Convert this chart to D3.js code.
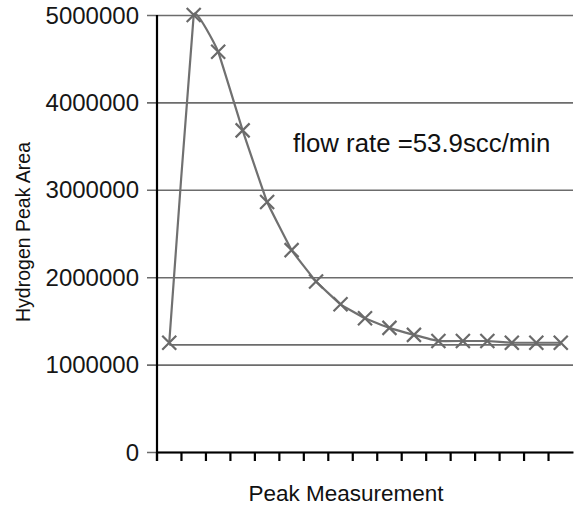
<!DOCTYPE html>
<html>
<head>
<meta charset="utf-8">
<script src="https://cdn.jsdelivr.net/npm/d3@7"></script>
<style>
  body { margin: 0; background: #fff; }
  svg { display: block; font-family: "Liberation Sans", Arial, sans-serif; }
</style>
</head>
<body>
<svg id="chart" width="578" height="506"></svg>
<script>
// peak measurements (17 of them, unlabeled on the axis)
const measurements = d3.range(1, 18);
const peakArea = [1250000, 5000000, 4580000, 3680000, 2860000, 2310000, 1950000, 1690000,
  1530000, 1420000, 1340000, 1270000, 1270000, 1270000, 1250000, 1250000, 1250000];
const yTicks = [0, 1000000, 2000000, 3000000, 4000000, 5000000];
const baseline = 1225000;
const note = 'flow rate =53.9scc/min';

const svg = d3.select('#chart');
const width = 578, height = 506;
const margin = { top: 15, right: 5, bottom: 54, left: 157 };

const x = d3.scaleBand()
  .domain(measurements)
  .range([margin.left, width - margin.right]);
const y = d3.scaleLinear()
  .domain([0, 5000000])
  .range([height - margin.bottom, margin.top]);

const cx = (d) => x(d) + x.bandwidth() / 2;

// gridlines with short ticks on the left of the axis
svg.append('g')
  .attr('transform', `translate(${margin.left - 10},0)`)
  .call(d3.axisLeft(y).tickValues(yTicks).tickFormat(''))
  .call((g) => g.select('.domain').remove())
  .call((g) => g.selectAll('line')
    .attr('x1', 0)
    .attr('x2', width - margin.right - margin.left + 10)
    .attr('stroke', '#6c6c6c').attr('stroke-width', 1.6));

// tick labels
svg.append('g')
  .selectAll('text')
  .data(yTicks)
  .join('text')
  .attr('x', 139)
  .attr('y', (d) => y(d))
  .attr('dy', '0.36em')
  .attr('text-anchor', 'end')
  .attr('font-size', 24)
  .attr('fill', '#161616')
  .text((d) => d);

// x axis with tick marks at band boundaries
const xAxis = d3.axisBottom(x).tickSize(9).tickFormat('').tickSizeOuter(0);
const gx = svg.append('g')
  .attr('transform', `translate(0,${y(0)})`)
  .call(xAxis);
gx.select('.domain').attr('stroke', '#000').attr('stroke-width', 2.2);
gx.selectAll('.tick')
  .attr('transform', (d) => `translate(${x(d)},0)`)
  .select('line').attr('stroke', '#000').attr('stroke-width', 2.2);

// y axis line
svg.append('line')
  .attr('x1', margin.left).attr('x2', margin.left)
  .attr('y1', y(5000000)).attr('y2', y(0) + 9)
  .attr('stroke', '#000').attr('stroke-width', 2.2);

// horizontal line along the base of the curve
svg.append('line')
  .attr('x1', cx(measurements[0]))
  .attr('x2', cx(measurements[measurements.length - 1]))
  .attr('y1', y(baseline)).attr('y2', y(baseline))
  .attr('stroke', '#6c6c6c').attr('stroke-width', 1.8);

// data line
const line = d3.line()
  .x((d, i) => cx(measurements[i]))
  .y((d) => y(d))
  .curve(d3.curveCardinal.tension(0.8));

svg.append('path')
  .datum(peakArea)
  .attr('d', line)
  .attr('fill', 'none')
  .attr('stroke', '#707070')
  .attr('stroke-width', 2.2);

// x markers
const s = 7;
svg.append('g')
  .selectAll('path')
  .data(peakArea)
  .join('path')
  .attr('transform', (d, i) => `translate(${cx(measurements[i])},${y(d)})`)
  .attr('d', `M${-s},${-s}L${s},${s}M${-s},${s}L${s},${-s}`)
  .attr('stroke', '#6a6a6a')
  .attr('stroke-width', 2.2)
  .attr('fill', 'none');

// annotation
svg.append('text')
  .attr('x', 293)
  .attr('y', 152)
  .attr('font-size', 25.8)
  .attr('fill', '#111')
  .text(note);

// axis titles
svg.append('text')
  .attr('transform', 'translate(30,232) rotate(-90)')
  .attr('text-anchor', 'middle')
  .attr('font-size', 19.5)
  .attr('fill', '#111')
  .text('Hydrogen Peak Area');

svg.append('text')
  .attr('x', 346)
  .attr('y', 501)
  .attr('text-anchor', 'middle')
  .attr('font-size', 22.5)
  .attr('fill', '#111')
  .text('Peak Measurement');
</script>
</body>
</html>
